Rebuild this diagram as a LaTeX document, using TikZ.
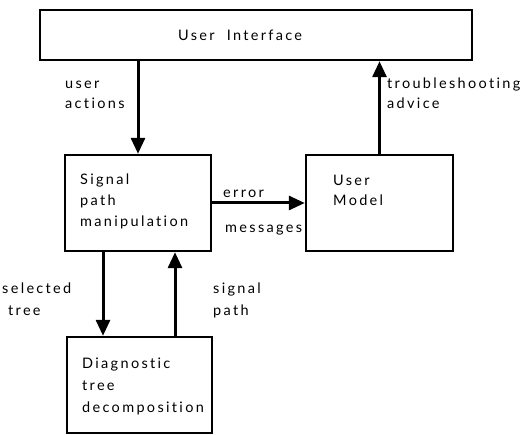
\documentclass[tikz,border=0pt]{standalone}
\usepackage{fontspec}
\newfontfamily\lblfont{Lato}[LetterSpace=16,Ligatures={NoCommon}]
\usetikzlibrary{arrows.meta}
\begin{document}
\begin{tikzpicture}[x=1pt,y=-1pt,
  box/.style={draw,line width=2.4pt,minimum width=#1,minimum height=96pt,inner sep=0pt},
  arr/.style={line width=3pt,-{Triangle[length=16pt,width=14pt]}},
  txt/.style={anchor=base west,inner sep=0pt,font=\lblfont\fontsize{14.5}{16}\selectfont}]
\useasboundingbox (0,0) rectangle (527,435);
\node[box=432pt,minimum height=50pt] (ui) at (256,35) {};
\node[box=146pt] (sig) at (138,203) {};
\node[box=147pt] (model) at (379.5,203) {};
\node[box=145pt] (diag) at (139.5,385) {};
\node[txt] (uit) at (178,41) {User\ \ Interface};
\node[txt] (s1) at (80,185) {Signal};
\node[txt] (s2) at (80,206) {path};
\node[txt] (s3) at (80,227) {manipulation};
\node[txt] (m1) at (333,186) {User};
\node[txt] (m2) at (333,206) {Model};
\node[txt] (d1) at (82,368) {Diagnostic};
\node[txt] (d2) at (82,390) {tree};
\node[txt] (d3) at (82,412) {decomposition};
\node[txt] (ua1) at (65,89) {user};
\node[txt] (ua2) at (65,109) {actions};
\node[txt] (ta1) at (387,89) {troubleshooting};
\node[txt] (ta2) at (387,109) {advice};
\node[txt] (e1) at (223,198) {error};
\node[txt] (e2) at (225,233) {messages};
\node[txt] (st1) at (2,294) {selected};
\node[txt] (st2) at (8,316) {tree};
\node[txt] (sp1) at (213,294) {signal};
\node[txt] (sp2) at (213,316) {path};
\draw[arr] (ui.south -| sig.north) -- (sig.north);
\draw[arr] (model.north) -- (model.north |- ui.south);
\draw[arr] (sig.east) -- (model.west);
\draw[arr] ([xshift=-35pt]sig.south) -- ([xshift=-35pt]sig.south |- diag.north);
\draw[arr] ([xshift=37pt]sig.south |- diag.north) -- ([xshift=37pt]sig.south);
\end{tikzpicture}
\end{document}
